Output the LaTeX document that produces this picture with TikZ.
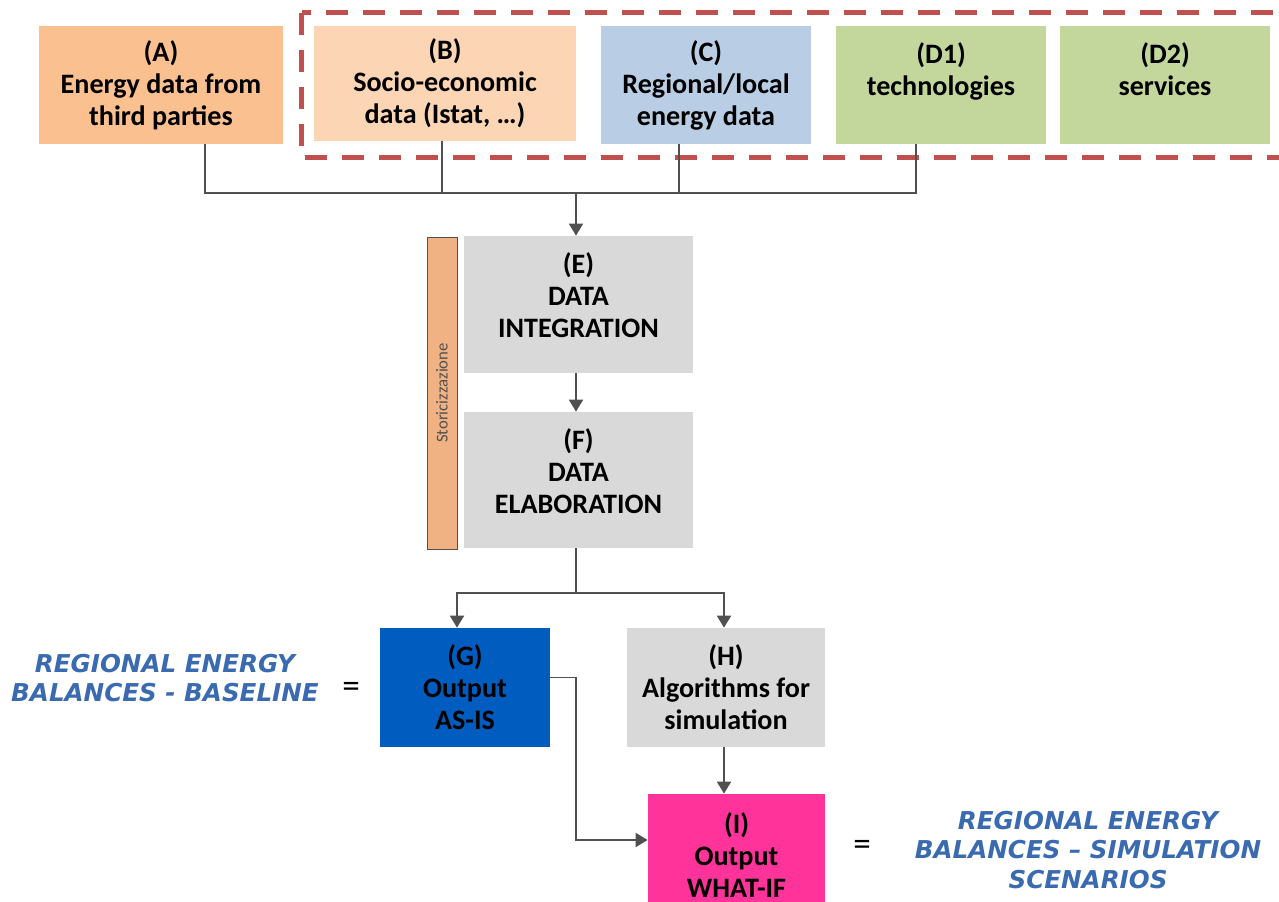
\documentclass[tikz,border=0pt]{standalone}
\usepackage{fontspec}
\setmainfont{Carlito}
\newfontfamily\artfont{DejaVu Sans}
\usetikzlibrary{calc}
\usetikzlibrary{positioning}
\usetikzlibrary{arrows.meta}
\definecolor{fillA}{HTML}{FAC090}
\definecolor{fillB}{HTML}{FCD5B5}
\definecolor{fillC}{HTML}{B9CDE5}
\definecolor{fillD}{HTML}{C3D69B}
\definecolor{fillGray}{HTML}{D9D9D9}
\definecolor{fillG}{HTML}{005CBF}
\definecolor{fillI}{HTML}{FF3399}
\definecolor{fillHist}{HTML}{F0B283}
\definecolor{frameRed}{HTML}{C0504D}
\definecolor{lineGray}{HTML}{505050}
\definecolor{artBlue}{HTML}{3A6AB0}
\tikzstyle{boxnode} = [rectangle, align=center, inner sep=0, font=\fontsize{16}{18.2}\selectfont\bfseries]
\tikzstyle{link} = [draw=lineGray, line width=1.1pt]
\tikzstyle{flow} = [link, -{Triangle[length=2.4mm,width=2.8mm]}]
\tikzstyle{groupframe} = [draw=frameRed, line width=1mm, dash pattern=on 4.4mm off 3mm]
\tikzstyle{arttext} = [align=center, text=artBlue, font=\artfont\fontsize{14}{17}\selectfont\bfseries\itshape]
\tikzstyle{eqsign} = [font=\fontsize{20}{20}\selectfont]

\begin{document}
\begin{tikzpicture}[x=0.2mm, y=-0.2mm]
    \useasboundingbox (0,0) rectangle (1279,902);

    % data sources
    \node[boxnode, fill=fillA, minimum width=48.8mm, minimum height=23.6mm] (src_a) at (161,85) {(A)\\Energy data from\\third parties};
    \node[boxnode, fill=fillB, minimum width=52.4mm, minimum height=23mm] (src_b) at ($(src_a)+(284,-1.5)$) {(B)\\Socio-economic\\data (Istat, …)};
    \node[boxnode, fill=fillC, minimum width=42mm, minimum height=23.6mm] (src_c) at ($(src_b)+(261,1.5)$) {(C)\\Regional/local\\energy data};
    \node[boxnode, fill=fillD, minimum width=42mm, minimum height=23.6mm] (src_d1) at ($(src_c)+(235,0)$) {(D1)\\technologies\\\phantom{x}};
    \node[boxnode, fill=fillD, minimum width=42mm, minimum height=23.6mm] (src_d2) at ($(src_d1)+(224,0)$) {(D2)\\services\\\phantom{x}};
    \draw[groupframe] ($(src_b.north west)+(-12,-13)$) rectangle ($(src_d2.south east)+(20,13)$);

    % processing
    \coordinate (bus) at (576,193);
    \node[boxnode, fill=fillGray, minimum width=45.8mm, minimum height=27.4mm, text depth=3.6mm] (integ) at (578.5,304.5) {(E)\\DATA\\INTEGRATION};
    \node[boxnode, fill=fillGray, minimum width=45.8mm, minimum height=27.2mm, text depth=3.6mm] (elab) at ($(integ)+(0,175.5)$) {(F)\\DATA\\ELABORATION};
    \node[draw=lineGray, fill=fillHist, rotate=90, minimum width=62.4mm, minimum height=6mm, inner sep=0, text=lineGray, font=\fontsize{9.5}{10}\selectfont] (hist) at (442,393) {Storicizzazione};
    \coordinate (split) at (576,593);

    % outputs
    \node[boxnode, fill=fillG, minimum width=34mm, minimum height=23.8mm] (as_is) at (465,687.5) {(G)\\Output\\AS-IS};
    \node[boxnode, fill=fillGray, minimum width=39.6mm, minimum height=23.8mm] (algo) at ($(as_is)+(261,0)$) {(H)\\Algorithms for\\simulation};
    \node[boxnode, fill=fillI, minimum width=35.4mm, minimum height=24.4mm] (what_if) at (736.5,855) {(I)\\Output\\WHAT-IF};

    \node[eqsign] (eq_base) at (351,690) {=};
    \node[eqsign] (eq_sim) at (862,848) {=};
    \node[arttext] (lbl_base) at (165,678) {REGIONAL ENERGY\\BALANCES - BASELINE};
    \node[arttext] (lbl_sim) at (1088,850) {REGIONAL ENERGY\\BALANCES – SIMULATION\\SCENARIOS};

    % connectors
    \draw[link] ([xshift=8.8mm]src_a.south) |- (bus);
    \draw[link] ([xshift=-0.6mm]src_b.south) |- (bus);
    \draw[link] ([xshift=-5.4mm]src_c.south) |- (bus);
    \draw[link] ([xshift=-5mm]src_d1.south) |- (bus);
    \draw[flow] (bus) -- (bus |- integ.north);
    \draw[flow] (integ.south -| bus) -- (elab.north -| bus);
    \draw[link] (elab.south -| bus) -- (split);
    \draw[flow] (split) -| ([xshift=-1.6mm]as_is.north);
    \draw[flow] (split) -| ([xshift=-0.4mm]algo.north);
    \draw[flow] ([yshift=2mm]as_is.east) -- ++(26,0) |- ([yshift=3mm]what_if.west);
    \draw[flow] ([xshift=-0.4mm]algo.south) -- ([xshift=-0.4mm]algo.south |- what_if.north);
\end{tikzpicture}
\end{document}
